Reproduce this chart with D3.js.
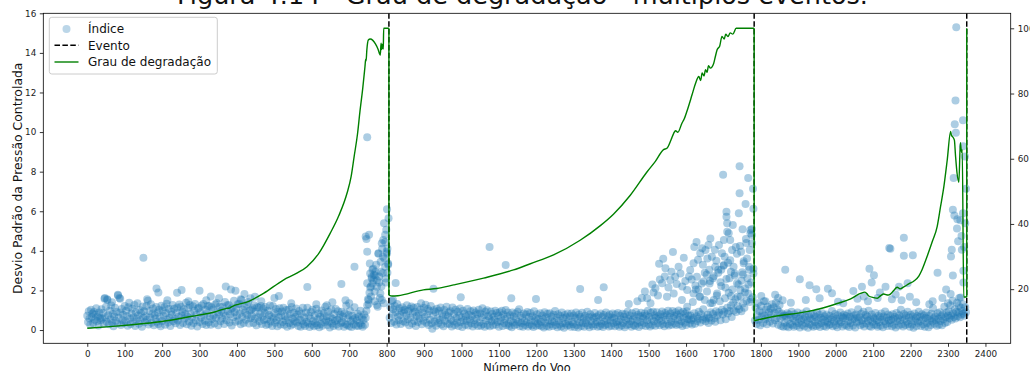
<!DOCTYPE html>
<html>
<head>
<meta charset="utf-8">
<script src="https://cdn.jsdelivr.net/npm/d3@7"></script>
<style>
  html, body { margin: 0; padding: 0; background: #fff; }
  svg { display: block; font-family: "DejaVu Sans", sans-serif; }
</style>
</head>
<body>
<svg id="chart" width="1030" height="371"></svg>
<script>
// ---- Texts ----
const titulo = "Figura 4.14 - Grau de degradação - múltiplos eventos.";
const rotuloX = "Número do Voo";
const rotuloY = "Desvio Padrão da Pressão Controlada";
const legendaTextos = ["Índice", "Evento", "Grau de degradação"];

// ---- Ticks ----
const ticksX = [0,100,200,300,400,500,600,700,800,900,1000,1100,1200,1300,1400,1500,1600,1700,1800,1900,2000,2100,2200,2300,2400];
const ticksEsq = [0,2,4,6,8,10,12,14,16];
const ticksDir = [20,40,60,80,100];

// ---- Maintenance events (flight number) ----
const eventos = [806, 1782, 2350];

// ---- Index per flight (every second flight), one array per cycle ----
const passoVoo = 2;
const ciclo1Inicio = 0;
const ciclo1Indice = [
  .72,.41,.95,.58,.27,1.02,.66,.84,.35,.91,.52,.78,1.10,.44,.69,.23,.88,.61,.49,1.05,
  .57,.86,.32,1.58,.64,1.18,.40,1.52,.75,.29,.97,.55,1.24,.38,.81,.19,.68,1.12,.47,.93,
  .33,1.74,.62,1.62,.89,.26,1.06,.51,.77,.36,1.21,.45,.98,.71,.22,1.15,1.38,.58,.30,.83,
  1.08,.43,.64,1.27,.21,.90,.55,1.35,.74,.32,1.01,.48,.86,.17,1.19,.62,.95,.39,.70,1.21,
  .52,1.48,.28,.96,.63,1.30,.37,.82,1.09,.24,.75,.58,1.16,.42,.89,.31,1.02,.66,.19,1.23,
  .46,.99,.71,1.15,.27,.85,1.33,.53,.38,1.07,.61,.20,.92,.77,1.26,.44,1.08,.56,.34,.88,
  1.14,.48,.67,1.29,.25,1.18,.73,.92,.36,1.05,.58,.81,1.38,.29,.69,1.11,.43,1.26,.84,.22,
  .62,1.20,.35,.98,1.32,.50,.77,.18,1.09,1.12,.41,.88,.63,1.24,.30,1.31,.72,.47,1.03,.26,
  .83,1.22,.39,1.22,.68,.27,1.15,.56,1.04,.74,.33,1.29,.61,1.37,.90,.24,.79,1.18,.45,.97,
  .58,1.16,.86,.31,1.42,.72,.49,1.25,.95,1.27,.38,.80,1.05,.23,1.12,.64,1.48,.91,.42,1.09,
  .73,1.30,.47,1.33,.84,.29,1.52,.66,1.02,.35,1.19,.88,.52,1.28,.76,1.41,.33,.99,.60,1.02,
  .71,1.10,.36,1.25,.57,.93,.24,1.15,.64,1.14,.45,.82,1.21,.30,.68,1.07,.51,.87,1.17,.26,
  .55,.98,.31,.76,1.24,.43,.68,.21,1.21,.59,.85,.37,1.06,.50,.19,.92,.64,1.10,.28,.73,
  .94,.40,1.12,.27,.70,.49,1.01,.17,.62,1.03,.35,.81,.23,1.16,.58,.30,.87,.44,.66,1.09,
  .38,.78,.21,.96,.52,.16,.84,.47,1.12,.29,.63,.20,.89,.41,1.12,.33,.72,.15,.58,.91,
  .27,1.02,.45,.19,.74,.36,1.08,.24,.55,.83,.14,.67,.31,.99,.22,.61,.86,.39,1.18,.48,
  .70,.26,.93,.42,.13,.64,1.04,.33,.57,.20,.81,.46,1.06,.28,.52,.95,.18,.60,.77,.35,
  .93,.40,.68,.17,.85,.31,1.24,.25,.59,.76,.19,.97,.44,.15,.72,.53,.29,1.15,.61,.22,
  .48,.82,.20,.69,.34,.98,.26,.63,.16,.51,.79,.27,.62,.98,1.25,1.56,1.32,1.88,2.15,1.70,
  2.62,2.35,3.10,2.78,1.45,2.95,3.30,2.52,1.18,3.85,2.70,1.62,3.45,2.20,4.10,2.88,1.35,3.62,4.45,2.40,
  3.95,2.90,3.30
];
const ciclo2Inicio = 808;
const ciclo2Indice = [
  .62,1.18,.35,1.46,.81,1.05,.42,1.22,.90,.28,1.31,.67,.50,1.10,.76,.31,.98,1.15,.44,.87,
  1.02,.38,.74,1.25,.55,.96,.24,1.08,.63,1.19,.33,.85,1.12,.46,.93,.21,.71,1.16,.40,.80,
  .58,1.04,1.35,.29,.88,.47,1.13,.66,1.28,.37,.79,1.06,.26,.96,.52,1.21,.34,.07,.74,1.00,
  .43,.91,.22,1.08,.60,.35,.97,.51,1.14,.28,.83,.65,.19,1.01,.47,.76,1.18,.32,.69,.89,
  .30,.95,.53,.18,1.14,.44,.81,.26,1.03,.61,.37,.92,.21,.72,1.09,.40,.63,.15,.98,.50,
  .84,.27,.69,.46,1.06,.23,.77,.54,.95,.34,.71,.18,.99,.49,.29,.88,.58,.80,.20,1.02,
  .39,.83,.22,.64,1.10,.31,.75,.17,.92,.48,1.00,.26,.70,.57,.19,.94,.43,.81,.24,.66,
  .51,.97,.28,.86,.40,.73,.16,.90,.45,.62,.98,.21,.79,.36,.55,1.01,.25,.68,.88,.33,
  .20,.75,.47,.14,.88,.38,.69,.24,.82,.53,.30,.93,.41,1.05,.19,.72,.35,.61,.17,.84,
  .46,.26,.78,.39,.91,.18,.66,.29,.86,.50,.23,.70,.15,.95,.43,.60,.22,.80,.33,.57,
  .24,.85,.42,.19,.73,.54,.13,.90,.37,.64,.21,.82,.48,.16,.85,.31,.69,.45,.20,.77,
  .40,.96,.25,.62,.14,.80,.47,.28,.71,.18,.88,.36,.59,.12,.76,.33,.65,.23,.83,.44,
  .27,.70,.17,.84,.41,.30,.74,.15,.63,.89,.26,.55,.13,.78,.38,.67,.20,.87,.35,.58,
  .16,.72,.34,.51,.92,.24,.64,.14,.80,.45,.28,.69,.19,.61,.86,.29,.66,.40,.17,.75,
  .47,.21,.83,.32,.66,.15,.76,.43,.25,.88,.52,.30,.70,.18,.79,.48,.22,.63,.84,.36,
  .60,.19,.78,.40,.27,.86,.45,.16,.72,.53,.23,.82,.35,.67,.14,.80,.49,.26,.93,.57,
  .29,.74,.44,.17,.85,.55,.25,.70,.20,.91,.48,.33,.77,.15,.68,.41,.87,.24,.71,.59,
  .36,.83,.21,.73,.50,.98,.28,.66,.18,.87,.54,.26,.93,.45,.75,.22,.62,.90,.34,.70,
  .57,.24,.80,.47,.94,.30,.68,.19,.86,.52,.75,.31,.98,.23,.64,.84,.42,.27,.96,.60,
  .71,.33,.90,.25,.78,.52,.99,.29,.66,.85,.44,.20,.93,.61,.37,.82,.26,.95,.55,.74,
  .55,.34,.74,.49,.28,1.42,.61,.85,.32,2.05,.70,.46,.57,.93,1.68,.38,.80,2.35,.52,1.05,
  .66,1.52,.44,.58,1.95,.77,.36,.62,2.48,.90,.48,1.36,.81,2.72,.60,.42,.95,1.74,.73,3.05,
  .88,1.46,.50,2.22,1.02,.79,3.25,.92,1.60,.55,2.58,1.12,.83,1.88,.96,3.52,1.24,.66,2.05,1.38,
  .99,2.75,1.55,.91,3.85,1.20,2.30,1.05,4.25,1.70,.95,2.92,1.34,3.48,1.12,2.10,4.60,1.48,2.62,1.85,
  3.20,1.42,5.05,2.40,4.80,1.65,3.10
];
const ciclo3Inicio = 1784;
const ciclo3Indice = [
  .48,1.12,.30,.75,1.35,.52,.96,.24,1.22,.68,.87,.36,1.45,.74,.55,1.04,.29,1.18,.63,.90,
  .42,1.08,.79,1.30,.33,1.15,.88,.50,1.38,.61,1.02,.27,.92,1.26,.58,.21,.83,.69,.17,.75,
  .37,.72,.19,.85,.52,.14,.78,.31,.64,.93,.26,.58,.16,.80,.45,.69,.22,.88,.35,.57,
  .13,.74,.48,.25,.83,.56,.18,.67,.34,.95,.50,.12,.71,.29,.60,.81,.23,.54,.16,.76,
  .41,.66,.20,.89,.51,.28,.77,.15,.62,.36,.85,.53,.21,.70,.44,.17,.79,.38,.58,.25,
  .72,.30,.55,.96,.19,.65,.43,.81,.24,.57,.14,.75,.48,.32,.88,.40,.68,.18,.61,.77,
  .27,.59,.71,.22,.84,.46,.15,.67,.35,.90,.52,.23,.74,.57,.13,.79,.38,.63,1.05,.45,
  .66,.24,.82,.49,.31,.93,.18,.60,.76,.33,.69,.47,.97,.21,.55,.16,.78,.42,.64,.28,
  .58,.86,.26,.50,.17,.72,.39,.65,.22,.83,.53,.14,.68,.45,.94,.30,.62,.20,.79,.48,
  .34,.71,.51,.19,.80,.56,.27,.66,.13,.86,.44,.60,.23,.75,.49,1.02,.29,.64,.18,.81,
  .55,.25,.73,.42,.92,.31,.63,.16,.77,.50,.28,.68,.12,.84,.46,.59,.21,.71,.37,.93,
  .45,.67,.20,.80,.53,.29,.74,.17,.62,.89,.35,.57,.14,.72,.48,.26,.82,.43,1.10,.59,
  .32,.69,.51,.22,.85,.58,.28,.90,.46,.70,.24,.78,.55,1.18,.36,.64,.88,.41,.73,.95,
  .60,1.25,.74,.52,1.48,.85,.66,1.05,.58,.92,1.38,.70,.88,1.62,.64,1.12,.78,.96,1.30,.82,
  .72,1.15,.90
];

// ---- Extra readings off the main band: [flight, index] ----
const leiturasCiclo1 = [
  [47,1.62],[53,1.55],[66,1.40],[82,1.78],[88,1.58],[150,3.65],[160,1.55],[185,2.10],[190,1.90],
  [214,1.50],[240,1.88],[252,2.02],[270,1.45],[300,1.98],[318,1.50],[330,1.70],[352,1.60],
  [370,2.20],[384,2.05],[396,1.98],[410,1.55],[420,1.82],[436,1.60],[448,1.68],[465,1.45],
  [500,1.62],[512,1.72],[545,1.35],[588,2.17],[612,1.30],[640,1.25],[655,1.40],[679,2.33],
  [690,1.50],[700,1.35],[714,3.20],
  [744,4.72],[746,4.60],[748,9.74],[753,4.81],[748,3.96],[755,3.36],[748,2.36],[756,2.86],
  [760,2.69],[765,2.53],[774,2.19],[778,3.88],[787,4.38],[791,4.55],[796,4.81],[793,5.40],
  [805,5.65],[801,6.10],[799,5.07],[796,3.20],[804,3.36],[787,1.52],[774,1.26],[783,1.85],
  [801,3.87],[790,3.70],[752,1.52],[762,3.05],[770,2.75],[780,2.40],[768,1.95],[758,2.20],
  [784,2.95],[797,2.60],[802,4.10]
];
const leiturasCiclo2 = [
  [817,1.52],[824,2.37],[925,2.09],[998,1.65],[1075,4.19],[1118,3.28],[1133,1.60],[1199,1.57],
  [1317,2.07],[1365,1.52],[1380,2.16],[1447,1.31],[1470,1.45],[1482,1.62],[1490,1.95],
  [1496,1.60],[1505,1.35],[1510,2.30],[1513,1.90],[1518,2.11],[1525,1.75],[1528,3.35],[1530,2.55],[1536,2.36],
  [1539,3.60],[1543,2.70],[1545,3.12],[1549,1.68],[1553,2.15],[1558,2.53],[1561,2.95],[1565,3.94],[1567,1.85],
  [1571,2.69],[1575,2.32],[1580,3.20],[1585,2.86],[1589,1.52],[1590,2.20],[1594,3.65],[1598,2.48],[1603,2.02],
  [1603,1.18],[1608,2.70],[1611,3.03],[1615,2.55],[1620,3.37],[1620,1.85],[1622,4.20],[1625,2.25],[1628,4.45],[1629,2.69],
  [1632,3.55],[1633,2.05],[1638,3.88],[1638,1.68],[1643,4.13],[1645,3.30],[1647,2.45],[1650,2.90],[1652,4.04],[1655,2.80],
  [1657,3.62],[1660,4.30],[1662,3.05],[1663,2.35],[1665,4.63],[1665,1.35],[1669,3.70],[1672,2.62],[1674,1.52],
  [1677,4.05],[1678,3.20],[1681,3.50],[1683,1.85],[1686,2.90],[1688,4.30],[1692,2.42],[1694,3.05],[1696,3.88],[1699,7.85],[1701,4.55],
  [1701,3.28],[1703,3.70],[1705,2.15],[1708,5.98],[1708,5.72],[1710,5.39],[1710,4.97],[1712,3.40],[1714,4.89],
  [1716,2.62],[1718,4.55],[1720,1.72],[1720,2.95],[1723,4.04],[1725,5.30],[1727,3.20],[1730,2.85],[1733,4.20],[1736,2.36],
  [1738,1.68],[1741,5.90],[1743,8.27],[1743,6.91],[1745,2.02],[1747,3.95],[1748,2.50],[1751,5.09],[1752,2.80],
  [1754,3.37],[1757,1.90],[1759,6.37],[1761,4.40],[1763,3.62],[1766,7.68],[1767,2.30],[1769,3.05],[1770,4.04],
  [1772,4.89],[1774,1.55],[1776,4.38],[1776,5.10],[1779,7.14],[1780,6.13],[1780,2.86]
];
const leiturasCiclo3 = [
  [1801,1.72],[1812,1.45],[1838,1.78],[1846,1.62],[1858,1.50],[1865,3.04],[1880,1.38],
  [1904,2.57],[1920,1.52],[1930,2.26],[1948,2.06],[1957,1.60],[1979,2.09],[1990,1.86],
  [2006,1.43],[2020,1.35],[2047,1.97],[2058,1.58],[2070,2.19],[2075,1.70],[2086,1.45],
  [2090,3.09],[2096,2.40],[2102,2.77],[2112,1.62],[2118,1.90],[2133,2.19],[2143,4.14],
  [2146,4.10],[2150,1.55],[2160,1.80],[2169,2.19],[2176,1.50],[2182,4.66],[2182,3.75],
  [2192,2.36],[2198,1.68],[2206,3.78],[2215,1.40],[2250,1.30],[2259,1.45],[2272,2.90],
  [2285,1.62],[2295,2.05],[2300,1.35],[2307,1.82],[2308,3.71],[2310,4.05],[2313,2.75],
  [2313,6.08],[2315,7.68],[2317,5.79],[2318,10.40],[2320,11.60],[2321,9.96],[2322,15.30],
  [2324,5.13],[2325,5.60],[2327,4.49],[2329,1.23],[2333,5.55],[2334,1.64],[2336,4.75],
  [2337,4.05],[2340,10.60],[2340,9.28],[2340,5.90],[2341,3.00],[2341,2.40],[2343,4.20],
  [2345,8.77],[2346,5.40],[2348,7.14]
];

// ---- Degradation degree (right axis, %) ----
const grauVoo = [
  0,60,120,194,280,340,373,380,384,430,471,524,560,587,620,649,672,694,705,713,722,729,736,742,744,745,747,751,756,763,770,777,783,785,787,789,791,792,806,806,
  815,830,898,934,979,1059,1139,1184,1246,1317,1371,1406,1451,1496,1518,1540,1549,1560,1567,1572,1578,1589,1595,1605,1616,1625,1634,1639,1643,1648,1652,1656,1660,1665,1674,1678,1683,1690,1696,1702,1706,1712,1718,1725,1734,1782,1782,
  1834,1923,1977,2004,2040,2066,2078,2084,2088,2102,2111,2120,2128,2140,2146,2155,2164,2172,2182,2195,2209,2222,2230,2244,2258,2271,2280,2289,2298,2307,2309,2312,2317,2320,2324,2329,2333,2336,2338,2342,2350,2350
];
const grauValor = [
  8.0,8.5,9.1,10.0,11.7,13.0,14.1,14.2,14.5,16.2,18.7,22.8,24.9,26.9,31.2,37.1,42.5,49.4,54.5,60.6,67.5,74.9,81.5,88.2,90.5,90.0,93.3,96.4,96.7,96.3,95.2,93.6,91.8,95.4,93.5,95.1,93.6,100,100,18.2,
  17.9,18.0,19.8,20.2,21.3,23.4,25.9,27.8,30.5,35.0,39.5,43.0,48.8,56.0,59.2,62.8,63.2,65.8,67.8,68.6,68.1,70.9,72.2,75.5,79.6,83.0,85.2,84.0,86.3,85.4,87.3,86.5,88.5,87.8,89.3,91.2,93.4,94.6,97.5,96.7,98.2,97.5,98.6,98.2,100,100,10.3,
  11.6,13.1,14.6,15.6,17.0,18.7,19.1,18.5,17.9,17.4,17.2,18.0,18.5,18.2,18.5,19.6,20.6,20.1,20.7,21.6,22.5,24.0,25.8,30.0,34.6,39.2,45.3,51.5,59.7,68.4,67.2,66.8,65.7,61.0,55.7,52.8,64.9,62.0,62.8,17.6,17.6,100
];

// ---- Layout ----
const area = { left: 43.3, right: 1010.7, top: 13.3, bottom: 343.3 };
const corPonto = "#1f77b4";
const corGrau = "green";
const fonte = "DejaVu Sans, sans-serif";
const opacidadePonto = 0.37;

const svg = d3.select("#chart");

const x = d3.scaleLinear().domain([-117.5, 2467.5]).range([area.left, area.right]);
const yEsq = d3.scaleLinear().domain([-0.67, 16.0]).range([area.bottom, area.top]);
const yDir = d3.scaleLinear().domain([3.4, 104.6]).range([area.bottom, area.top]);

svg.append("defs").append("clipPath").attr("id", "recorte")
  .append("rect")
  .attr("x", area.left).attr("y", area.top)
  .attr("width", area.right - area.left).attr("height", area.bottom - area.top);

// assemble the scatter from the per-cycle arrays
const pontos = [];
[[ciclo1Inicio, ciclo1Indice], [ciclo2Inicio, ciclo2Indice], [ciclo3Inicio, ciclo3Indice]]
  .forEach(([inicio, valores]) => valores.forEach((v, i) => pontos.push([inicio + i * passoVoo, v])));
leiturasCiclo1.concat(leiturasCiclo2, leiturasCiclo3).forEach(p => pontos.push(p));

const plot = svg.append("g").attr("clip-path", "url(#recorte)");

plot.append("g").selectAll("circle")
  .data(pontos)
  .join("circle")
  .attr("cx", d => x(d[0]))
  .attr("cy", d => yEsq(d[1]))
  .attr("r", 4.0)
  .attr("fill", corPonto)
  .attr("fill-opacity", opacidadePonto);

// maintenance events
plot.append("g").selectAll("line")
  .data(eventos)
  .join("line")
  .attr("x1", d => x(d)).attr("x2", d => x(d))
  .attr("y1", area.top).attr("y2", area.bottom)
  .attr("stroke", "#000")
  .attr("stroke-width", 1.5)
  .attr("stroke-dasharray", "5.5,2.4");

// degradation degree on the twin axis: smooth within a cycle, straight jumps at events
const grau = grauVoo.map((v, i) => [v, grauValor[i]]);
const trechos = [[grau[0]]];
for (let i = 1; i < grau.length; i++) {
  if (grau[i][0] === grau[i - 1][0]) trechos.push([grau[i]]);
  else trechos[trechos.length - 1].push(grau[i]);
}
const linhaGrau = d3.line().x(d => x(d[0])).y(d => yDir(d[1])).curve(d3.curveMonotoneX);
const gGrau = plot.append("g")
  .attr("fill", "none").attr("stroke", corGrau).attr("stroke-width", 1.4)
  .attr("stroke-linejoin", "round");
trechos.forEach((t, i) => {
  if (t.length > 1) gGrau.append("path").attr("d", linhaGrau(t));
  if (i > 0) {
    const a = trechos[i - 1][trechos[i - 1].length - 1], b = t[0];
    gGrau.append("line")
      .attr("x1", x(a[0])).attr("y1", yDir(a[1]))
      .attr("x2", x(b[0])).attr("y2", yDir(b[1]));
  }
});

// frame
svg.append("rect")
  .attr("x", area.left).attr("y", area.top)
  .attr("width", area.right - area.left).attr("height", area.bottom - area.top)
  .attr("fill", "none").attr("stroke", "#000").attr("stroke-width", 0.8);

function estilizarEixo(g) {
  g.attr("font-family", fonte).attr("font-size", 8.8).attr("color", "#000");
  g.select(".domain").remove();
  g.selectAll(".tick line").attr("stroke-width", 0.8);
  g.selectAll(".tick text").attr("fill", "#222");
}

svg.append("g")
  .attr("transform", `translate(0,${area.bottom})`)
  .call(d3.axisBottom(x).tickValues(ticksX).tickSize(3.5).tickPadding(3.5).tickFormat(d3.format("d")))
  .call(estilizarEixo);

svg.append("g")
  .attr("transform", `translate(${area.left},0)`)
  .call(d3.axisLeft(yEsq).tickValues(ticksEsq).tickSize(3.5).tickPadding(3.5).tickFormat(d3.format("d")))
  .call(estilizarEixo);

svg.append("g")
  .attr("transform", `translate(${area.right},0)`)
  .call(d3.axisRight(yDir).tickValues(ticksDir).tickSize(3.5).tickPadding(3.5).tickFormat(d3.format("d")))
  .call(estilizarEixo);

// axis titles
svg.append("text")
  .attr("x", (area.left + area.right) / 2).attr("y", 372)
  .attr("text-anchor", "middle")
  .attr("font-family", fonte).attr("font-size", 11.4).attr("fill", "#111")
  .text(rotuloX);

svg.append("text")
  .attr("transform", `translate(21.5,${(area.top + area.bottom) / 2}) rotate(-90)`)
  .attr("text-anchor", "middle")
  .attr("font-family", fonte).attr("font-size", 12.4).attr("fill", "#111")
  .text(rotuloY);

// title (sits mostly above the page edge)
const tituloEl = svg.append("text")
  .attr("x", 522.5).attr("y", 4)
  .attr("text-anchor", "middle")
  .attr("font-family", fonte).attr("font-size", 25.4).attr("fill", "#111")
  .text(titulo);
const larguraTitulo = tituloEl.node().getComputedTextLength();
if (larguraTitulo > 0) tituloEl.attr("font-size", 25.4 * 691 / larguraTitulo);

// legend
const leg = svg.append("g");
leg.append("rect")
  .attr("x", 49.3).attr("y", 17.3).attr("width", 168).attr("height", 56.7)
  .attr("rx", 2.5)
  .attr("fill", "#fff").attr("fill-opacity", 0.8)
  .attr("stroke", "#cccccc").attr("stroke-width", 1);

const linhasLeg = [29, 45.3, 62];
leg.append("circle")
  .attr("cx", 66.5).attr("cy", linhasLeg[0]).attr("r", 4.0)
  .attr("fill", corPonto).attr("fill-opacity", 0.3);
leg.append("line")
  .attr("x1", 54.5).attr("x2", 78.5).attr("y1", linhasLeg[1]).attr("y2", linhasLeg[1])
  .attr("stroke", "#000").attr("stroke-width", 1.5).attr("stroke-dasharray", "5.5,2.4");
leg.append("line")
  .attr("x1", 54.5).attr("x2", 78.5).attr("y1", linhasLeg[2]).attr("y2", linhasLeg[2])
  .attr("stroke", corGrau).attr("stroke-width", 1.4);

leg.selectAll("text.leg")
  .data(legendaTextos)
  .join("text")
  .attr("class", "leg")
  .attr("x", 88)
  .attr("y", (d, i) => linhasLeg[i] + 4.3)
  .attr("font-family", fonte).attr("font-size", 12).attr("fill", "#111")
  .text(d => d);
</script>
</body>
</html>
